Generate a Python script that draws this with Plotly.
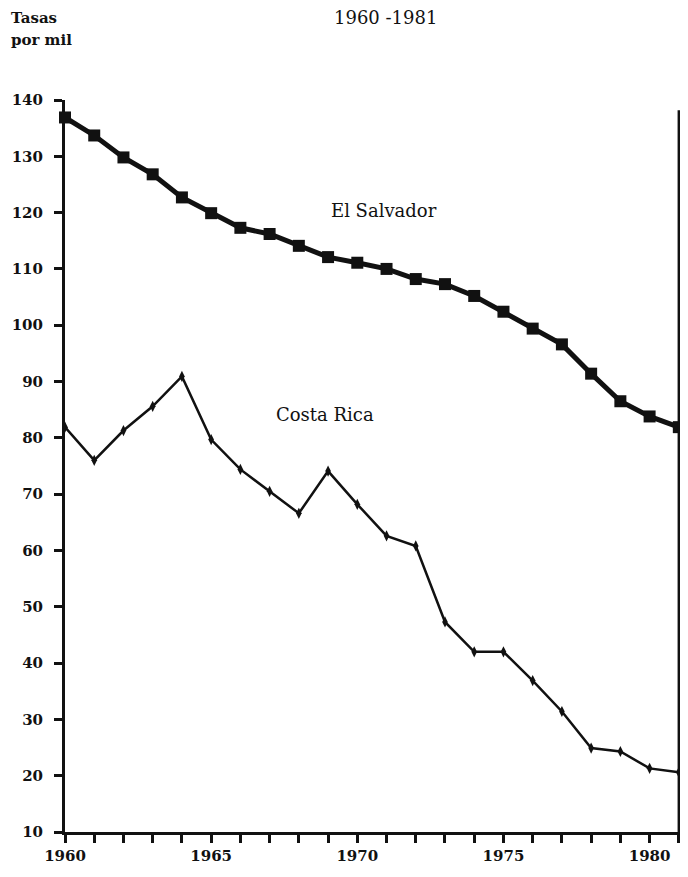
import plotly.graph_objects as go

years = list(range(1960, 1982))
el_salvador = [136.9, 133.7, 129.8, 126.8, 122.7, 119.9, 117.3, 116.2, 114.1, 112.1, 111.1,
               110.0, 108.2, 107.3, 105.2, 102.4, 99.4, 96.6, 91.4, 86.5, 83.8, 81.9]
costa_rica = [81.9, 76.0, 81.3, 85.6, 90.9, 79.7, 74.4, 70.5, 66.6, 74.1, 68.2,
              62.6, 60.8, 47.3, 42.0, 42.0, 36.9, 31.4, 24.9, 24.3, 21.3, 20.6]
x_ticks = [1960, 1965, 1970, 1975, 1980]
y_ticks = list(range(10, 150, 10))

FONT = "DejaVu Serif, Liberation Serif, serif"
INK = "#111111"

# the page body adds an 8px margin on every side, so the figure must stay within 672x861
W, H = 672, 861
L, R, T, B = 57, 0, 92, 37
PW, PH = W - L - R, H - T - B

fig = go.Figure()
fig.add_trace(go.Scatter(
    x=years, y=el_salvador, mode="lines+markers", name="El Salvador",
    line=dict(color=INK, width=5),
    marker=dict(symbol="square", size=12, color=INK),
    cliponaxis=False,
))
fig.add_trace(go.Scatter(
    x=years, y=costa_rica, mode="lines+markers", name="Costa Rica",
    line=dict(color=INK, width=2.5),
    marker=dict(symbol="diamond-tall", size=8, color=INK),
    cliponaxis=False,
))

# right-hand closing line
fig.add_shape(type="line", x0=1981, x1=1981, y0=10, y1=138.2,
              line=dict(color=INK, width=2.5))

fig.add_annotation(x=1970.9, y=120.4, text="El Salvador", showarrow=False,
                   font=dict(size=18, family=FONT, color=INK))
fig.add_annotation(x=1968.9, y=84.2, text="Costa Rica", showarrow=False,
                   font=dict(size=18, family=FONT, color=INK))

fig.add_annotation(xref="paper", yref="paper", x=(377 - L) / PW, y=1 + (T - 10) / PH,
                   yanchor="middle", text="1960 -1981", showarrow=False,
                   font=dict(size=18, family=FONT, color=INK))
fig.add_annotation(xref="paper", yref="paper", x=(1 - L) / PW, y=1 + (T - 10) / PH,
                   xanchor="left", yanchor="middle", text="<b>Tasas</b>", showarrow=False,
                   font=dict(size=15, family=FONT, color=INK))
fig.add_annotation(xref="paper", yref="paper", x=(1 - L) / PW, y=1 + (T - 32) / PH,
                   xanchor="left", yanchor="middle", text="<b>por mil</b>", showarrow=False,
                   font=dict(size=15, family=FONT, color=INK))

fig.update_layout(
    width=W, height=H,
    margin=dict(l=L, r=R, t=T, b=B),
    paper_bgcolor="white", plot_bgcolor="white",
    showlegend=False,
    font=dict(family=FONT, color=INK, size=15),
)
fig.update_xaxes(
    range=[1960, 1981.04], tickvals=years,
    ticktext=[str(y) if y in x_ticks else "" for y in years],
    ticks="outside", ticklen=8, tickwidth=2.5, tickcolor=INK,
    ticklabelstandoff=0, automargin=False,
    showline=True, linewidth=3, linecolor=INK,
    showgrid=False, zeroline=False,
    tickfont=dict(size=15, family=FONT, color=INK, weight="bold"),
)
fig.update_yaxes(
    range=[10, 140], tickvals=y_ticks,
    ticks="outside", ticklen=8, tickwidth=2.5, tickcolor=INK,
    ticklabelstandoff=8, automargin=False,
    showline=True, linewidth=3, linecolor=INK,
    showgrid=False, zeroline=False,
    tickfont=dict(size=15, family=FONT, color=INK, weight="bold"),
)

fig.write_html("out.html")
